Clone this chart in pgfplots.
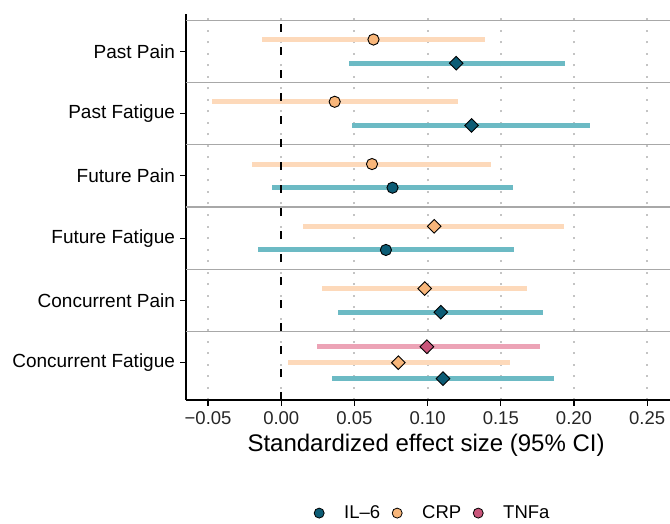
\documentclass[border=0pt]{standalone}
\usepackage{pgfplots}
\pgfplotsset{compat=1.18}
\usepackage{pgfplotstable}
\usepackage{fontspec}
\setmainfont{Liberation Sans}

\definecolor{ilpt}{HTML}{0C5C75}
\definecolor{ilbar}{HTML}{6CBAC4}
\definecolor{crppt}{HTML}{F8B67A}
\definecolor{crpbar}{HTML}{FDD9BA}
\definecolor{tnfpt}{HTML}{C9557A}
\definecolor{tnfbar}{HTML}{ECA3B6}
\definecolor{sepgray}{HTML}{A8A8A8}
\definecolor{dotgray}{HTML}{C4C4C4}

% square diamond like ggplot shape 23
\pgfdeclareplotmark{ggdiamond}{%
  \pgfpathmoveto{\pgfqpoint{0pt}{1.22\pgfplotmarksize}}%
  \pgfpathlineto{\pgfqpoint{1.22\pgfplotmarksize}{0pt}}%
  \pgfpathlineto{\pgfqpoint{0pt}{-1.22\pgfplotmarksize}}%
  \pgfpathlineto{\pgfqpoint{-1.22\pgfplotmarksize}{0pt}}%
  \pgfpathclose
  \pgfusepathqfillstroke}

% y: 1 = Concurrent Fatigue ... 6 = Past Pain, dodged
\pgfplotstableread{
y     lo      est     hi     sig
5.81  0.046   0.1195  0.194  d
4.81  0.048   0.130   0.211  d
3.81  -0.006  0.076   0.158  c
2.81  -0.016  0.0715  0.159  c
1.81  0.039   0.109   0.179  d
0.744 0.0345  0.1105  0.186  d
}\ilsix

\pgfplotstableread{
y     lo      est     hi     sig
6.19  -0.013  0.063   0.139  c
5.19  -0.047  0.0365  0.1205 c
4.19  -0.020  0.062   0.1435 c
3.19  0.0145  0.1045  0.1935 d
2.19  0.028   0.098   0.168  d
1.0   0.0045  0.080   0.156  d
}\crp

\pgfplotstableread{
y     lo      est     hi     sig
1.256 0.0245  0.0995  0.1765 d
}\tnfa

\pgfplotsset{
  ci/.style={only marks, mark=none, forget plot,
    error bars/.cd, x dir=both, x explicit, error mark=none,
    error bar style={draw=#1, line width=5pt}},
  pts/.style={only marks, forget plot, scatter, scatter src=explicit symbolic,
    mark size=5.6pt,
    scatter/classes={
      c={mark=*, fill=#1, draw=black, line width=0.9pt},
      d={mark=ggdiamond, fill=#1, draw=black, line width=0.9pt}}},
}

\begin{document}
\begin{tikzpicture}
\begin{axis}[
  at={(186pt,123pt)}, anchor=south west,
  scale only axis, width=484pt, height=386pt,
  xmin=-0.0651, xmax=0.2656, ymin=0.4, ymax=6.6,
  axis x line=bottom, axis y line=left,
  axis line style={-, line width=1.6pt, black},
  tick align=outside, major tick length=5.5pt,
  tick style={black, line width=1.2pt},
  xtick={-0.05,0,0.05,0.1,0.15,0.2,0.25},
  xticklabels={−0.05,0.00,0.05,0.10,0.15,0.20,0.25},
  ytick={1,2,3,4,5,6},
  yticklabels={Concurrent Fatigue,Concurrent Pain,Future Fatigue,Future Pain,Past Fatigue,Past Pain},
  xticklabel style={font=\fontsize{18.5}{20}\selectfont, text=black!85,
    yshift=-5pt, inner sep=1pt},
  yticklabel style={font=\fontsize{19}{21}\selectfont, text=black, xshift=-2pt},
  xmajorgrids,
  x grid style={draw=dotgray, line width=2pt, dash pattern=on 2pt off 9.5pt},
  extra y ticks={1.5,2.5,3.5,4.5,5.5,6.5},
  extra y tick labels={},
  extra y tick style={grid=major, major tick length=0pt,
    grid style={draw=sepgray, line width=1.3pt, solid}},
  xlabel={Standardized effect size (95\% CI)},
  xlabel style={font=\fontsize{24}{26}\selectfont, inner sep=0pt,
    at={(axis description cs:0.496,-0.118)}, anchor=center},
  legend style={at={(axis description cs:0.51,-0.293)}, anchor=center,
    legend columns=3, draw=none, fill=none,
    font=\fontsize{18.5}{20}\selectfont,
    /tikz/every odd column/.append style={column sep=18pt},
    /tikz/every even column/.append style={column sep=10pt}},
  clip=false,
]
% confidence intervals
\addplot[ci=ilbar] table[x=est, y=y,
  x error plus expr=\thisrow{hi}-\thisrow{est},
  x error minus expr=\thisrow{est}-\thisrow{lo}] {\ilsix};
\addplot[ci=crpbar] table[x=est, y=y,
  x error plus expr=\thisrow{hi}-\thisrow{est},
  x error minus expr=\thisrow{est}-\thisrow{lo}] {\crp};
\addplot[ci=tnfbar] table[x=est, y=y,
  x error plus expr=\thisrow{hi}-\thisrow{est},
  x error minus expr=\thisrow{est}-\thisrow{lo}] {\tnfa};

% zero reference line
\draw[black, line width=2.4pt, dash pattern=on 8pt off 15pt]
  (axis cs:0,0.4) -- (axis cs:0,6.6);

% point estimates
\addplot[pts=ilpt] table[x=est, y=y, meta=sig] {\ilsix};
\addplot[pts=crppt] table[x=est, y=y, meta=sig] {\crp};
\addplot[pts=tnfpt] table[x=est, y=y, meta=sig] {\tnfa};

\addlegendimage{only marks, mark=*, mark size=5pt, mark options={fill=ilpt, draw=black, line width=0.8pt}}
\addlegendentry{IL–6}
\addlegendimage{only marks, mark=*, mark size=5pt, mark options={fill=crppt, draw=black, line width=0.8pt}}
\addlegendentry{CRP}
\addlegendimage{only marks, mark=*, mark size=5pt, mark options={fill=tnfpt, draw=black, line width=0.8pt}}
\addlegendentry{TNFa}
\end{axis}
\pgfresetboundingbox
\useasboundingbox (0,0) rectangle (670pt,523pt);
\end{tikzpicture}
\end{document}
